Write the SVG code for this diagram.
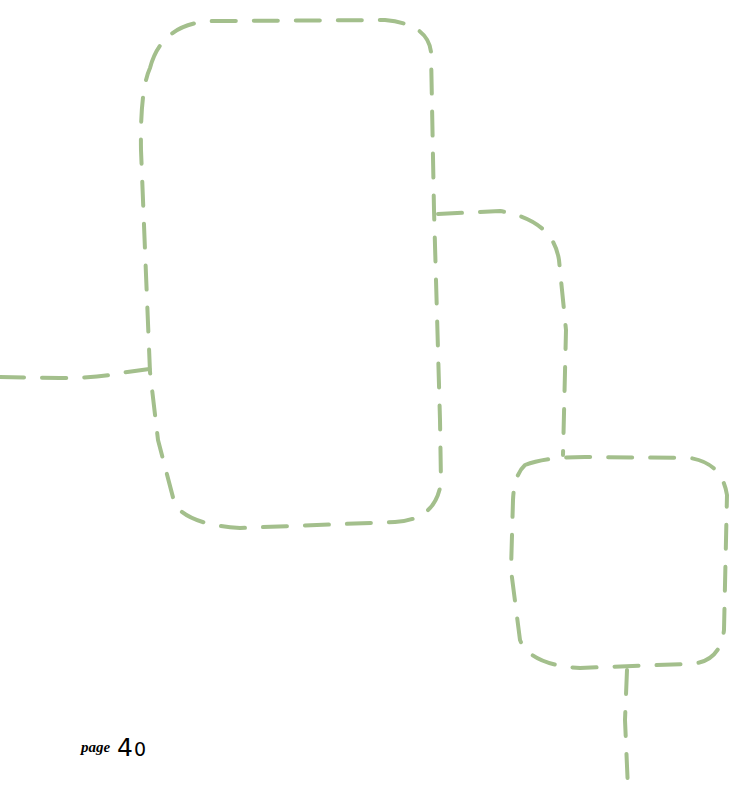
<svg xmlns="http://www.w3.org/2000/svg" width="738" height="789" viewBox="0 0 738 789">
<style>
.d{fill:none;stroke:#a3bf8c;stroke-width:4;stroke-linecap:round;stroke-linejoin:round;stroke-dasharray:24 18}
</style>
<rect width="738" height="789" fill="#fff"/>
<g id="box1"><path class="d" d="M150,68 Q162,22 215,21 L385,20 Q428,24 431,52 L434,210 L440,420 L441,482 Q436,520 395,522 L240,528 Q190,525 175,505 L158,440 L150,372 L145,250 L141,150 Q140,90 150,68 Z"/></g>
<g id="box2"><path class="d" d="M438,214 L500,211 Q553,220 559,260 L566,330 L563,455"/></g>
<g id="box3"><path class="d" d="M525,465 Q545,457 585,457 L690,458 Q722,463 727,495 L724,630 Q720,665 685,664 L580,668 Q530,665 520,640 L511,570 L513,500 Q514,475 525,465 Z"/></g>
<g id="connectors">
<path class="d" d="M0,377 L60,378 Q100,378 120,373 L150,369"/>
<path class="d" d="M627,670 L625,720 L628,789"/>
</g>
<g id="label">
<text x="81" y="752" font-family="Liberation Serif, serif" font-style="italic" font-weight="bold" font-size="15" fill="#000">page</text>
<text x="117" y="756" font-family="DejaVu Sans, sans-serif" font-size="25" fill="#000">4<tspan font-size="19" dx="1">0</tspan></text>
</g>
</svg>
